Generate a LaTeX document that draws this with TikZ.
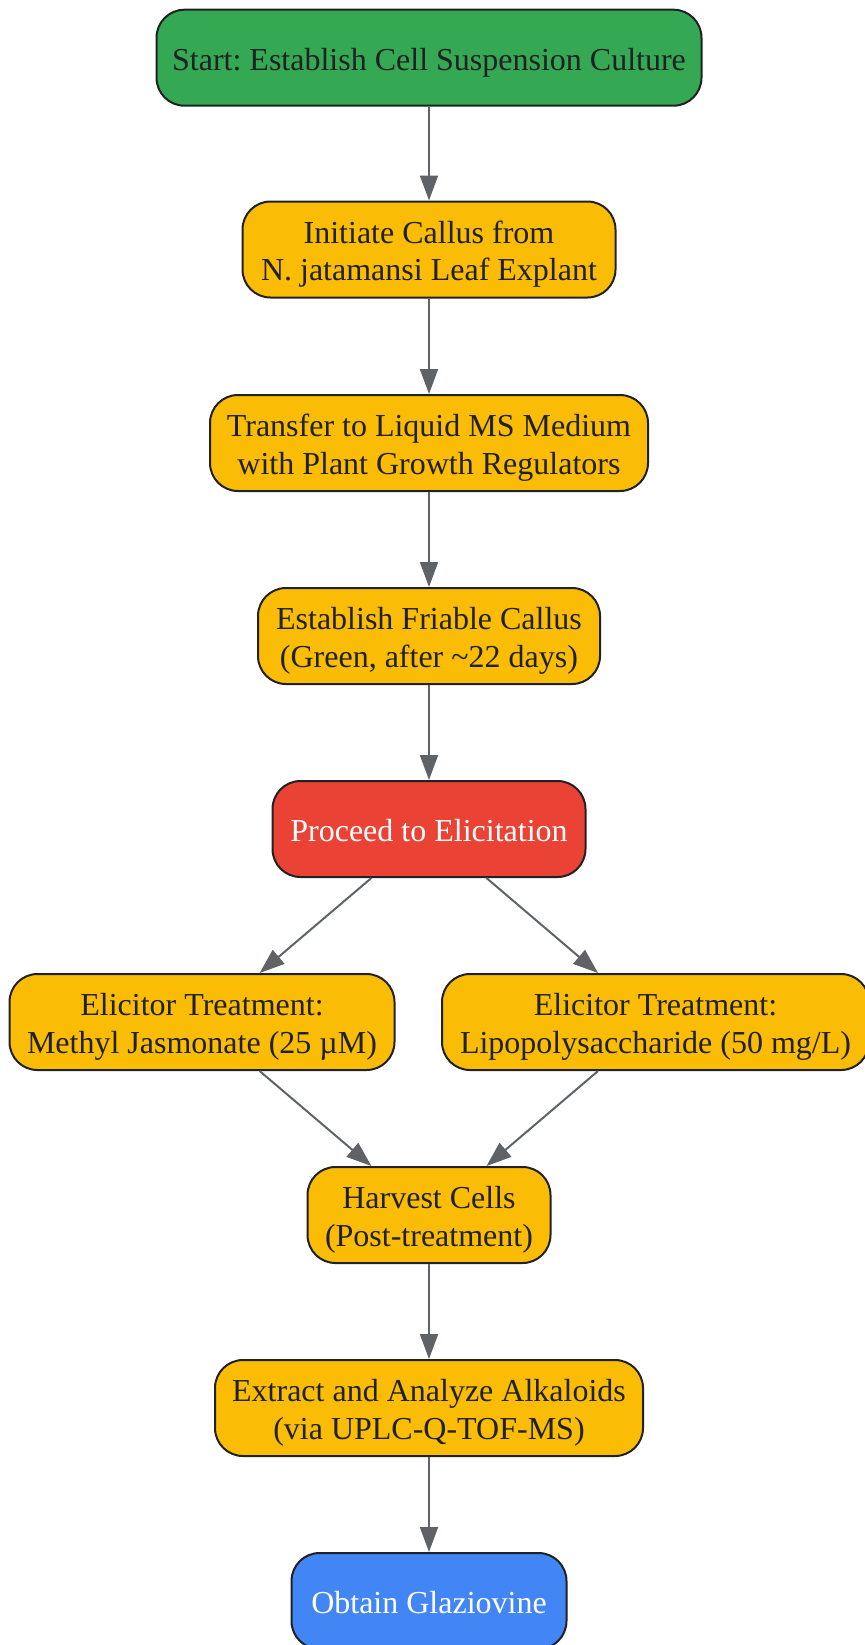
\documentclass[tikz,border=0pt]{standalone}
\usepackage{fontspec}
\setmainfont{Liberation Serif}
\usetikzlibrary{arrows.meta}
\frenchspacing
\definecolor{startgreen}{HTML}{34A853}
\definecolor{stageyellow}{HTML}{FBBC05}
\definecolor{elicitred}{HTML}{EA4335}
\definecolor{endblue}{HTML}{4285F4}
\definecolor{edgegray}{HTML}{5F6368}
\definecolor{inkdark}{HTML}{202124}
\tikzset{
  stagebox/.style={draw=inkdark, line width=1pt, rounded corners=14pt, minimum height=48pt, inner sep=0pt, align=center, text=inkdark, font=\fontsize{16}{18.85}\selectfont},
  flow/.style={draw=edgegray, line width=1pt, -{Triangle[length=12.5pt,width=9pt]}}
}
\newcommand{\stage}[6]{\node[stagebox, #5, minimum width=#4] (#1) at ( #2 , #3 ) {\rule{0pt}{16.1pt}#6\rule[-3.6pt]{0pt}{0pt}};}

\begin{document}
\begin{tikzpicture}[x=0.5pt,y=-0.5pt]
                \useasboundingbox (0,0) rectangle (864,1645);
                % main column
                \stage{start}{429}{57.7}{272.5pt}{fill=startgreen}{Start: Establish Cell Suspension Culture}
                \stage{initiate}{429}{249.5}{186.5pt}{fill=stageyellow}{Initiate Callus from\\N. jatamansi Leaf Explant}
                \stage{transfer}{429}{443}{219pt}{fill=stageyellow}{Transfer to Liquid MS Medium\\with Plant Growth Regulators}
                \stage{friable}{429}{636}{171pt}{fill=stageyellow}{Establish Friable Callus\\(Green, after \textasciitilde22 days)}
                \stage{proceed}{429}{829}{156.5pt}{fill=elicitred, text=white}{Proceed to Elicitation}
                % elicitor row
                \stage{methyl}{202}{1022}{192.5pt}{fill=stageyellow}{Elicitor Treatment:\\Methyl Jasmonate (25 µM)}
                \stage{lipo}{655.5}{1022}{213.5pt}{fill=stageyellow}{Elicitor Treatment:\\Lipopolysaccharide (50 mg/L)}
                % after treatment
                \stage{harvest}{429}{1215}{121.5pt}{fill=stageyellow}{Harvest Cells\\(Post-treatment)}
                \stage{extract}{429}{1408}{214pt}{fill=stageyellow}{Extract and Analyze Alkaloids\\(via UPLC-Q-TOF-MS)}
                \stage{obtain}{429}{1601}{137.5pt}{fill=endblue, text=white}{Obtain Glaziovine}

                \draw[flow] (start) -- (initiate);
                \draw[flow] (initiate) -- (transfer);
                \draw[flow] (transfer) -- (friable);
                \draw[flow] (friable) -- (proceed);
                \draw[flow] (proceed) -- (methyl);
                \draw[flow] (proceed) -- (lipo);
                \draw[flow] (methyl) -- (harvest);
                \draw[flow] (lipo) -- (harvest);
                \draw[flow] (harvest) -- (extract);
                \draw[flow] (extract) -- (obtain);
            \end{tikzpicture}
\end{document}
